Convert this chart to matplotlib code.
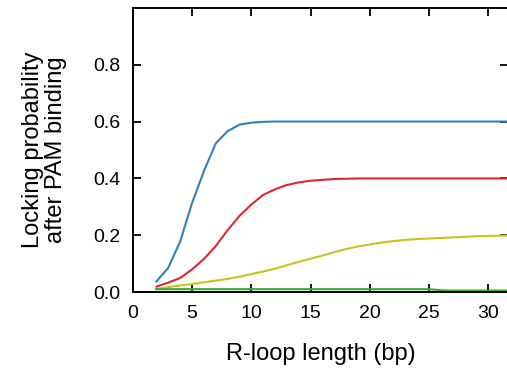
import matplotlib
matplotlib.use('Agg')
import matplotlib.pyplot as plt
import numpy as np

plt.rcParams['font.family'] = ['Liberation Sans', 'DejaVu Sans']

# R-loop length (bp)
rloop_len = np.arange(2, 33)

# locking probability, one value per bp
blue = [0.038, 0.086, 0.178, 0.313, 0.425, 0.523, 0.566, 0.589, 0.596, 0.599,
        0.600, 0.600, 0.600, 0.600, 0.600, 0.600, 0.600, 0.600, 0.600, 0.600,
        0.600, 0.600, 0.600, 0.600, 0.600, 0.600, 0.600, 0.600, 0.600, 0.600, 0.600]
red = [0.020, 0.034, 0.050, 0.080, 0.117, 0.162, 0.218, 0.268, 0.308, 0.342,
       0.362, 0.377, 0.386, 0.392, 0.395, 0.398, 0.399, 0.400, 0.400, 0.400,
       0.400, 0.400, 0.400, 0.400, 0.400, 0.400, 0.400, 0.400, 0.400, 0.400, 0.400]
yellow = [0.012, 0.018, 0.024, 0.029, 0.035, 0.041, 0.047, 0.055, 0.064, 0.073,
          0.083, 0.095, 0.107, 0.118, 0.129, 0.141, 0.152, 0.161, 0.168, 0.175,
          0.180, 0.184, 0.187, 0.189, 0.191, 0.193, 0.195, 0.197, 0.198, 0.199, 0.200]
green = [0.011, 0.011, 0.011, 0.011, 0.011, 0.011, 0.011, 0.011, 0.011, 0.011,
         0.011, 0.011, 0.011, 0.011, 0.011, 0.011, 0.011, 0.011, 0.011, 0.011,
         0.011, 0.011, 0.011, 0.011, 0.007, 0.006, 0.006, 0.006, 0.006, 0.006, 0.006]

x_ticks = [0, 5, 10, 15, 20, 25, 30]
y_ticks = [0.0, 0.2, 0.4, 0.6, 0.8]

fig = plt.figure(figsize=(5.07, 3.69), dpi=100)
ax = fig.add_axes([132.7 / 507, 76.7 / 369, 375.8 / 507, 284.6 / 369])

ax.plot(rloop_len, blue, color='#2f80c0', lw=1.5)
ax.plot(rloop_len, red, color='#e2262c', lw=1.5)
ax.plot(rloop_len, yellow, color='#c6c41e', lw=1.5)
ax.plot(rloop_len, green, color='#35a83a', lw=1.5)

ax.set_xlim(0, 31.7)
ax.set_ylim(0, 1.0)
ax.set_xticks(x_ticks)
ax.set_yticks(y_ticks)
ax.set_yticklabels([f'{v:.1f}' for v in y_ticks])
ax.tick_params(direction='in', length=5.5, width=1.3, labelsize=14, pad=9,
               top=True, right=True)
for sp in ax.spines.values():
    sp.set_linewidth(1.4)

ax.set_xlabel('R-loop length (bp)', fontsize=17, labelpad=15)
ax.set_ylabel('Locking probability\nafter PAM binding', fontsize=17,
              labelpad=19, linespacing=1.05)

fig.savefig('out.png', dpi=100)
